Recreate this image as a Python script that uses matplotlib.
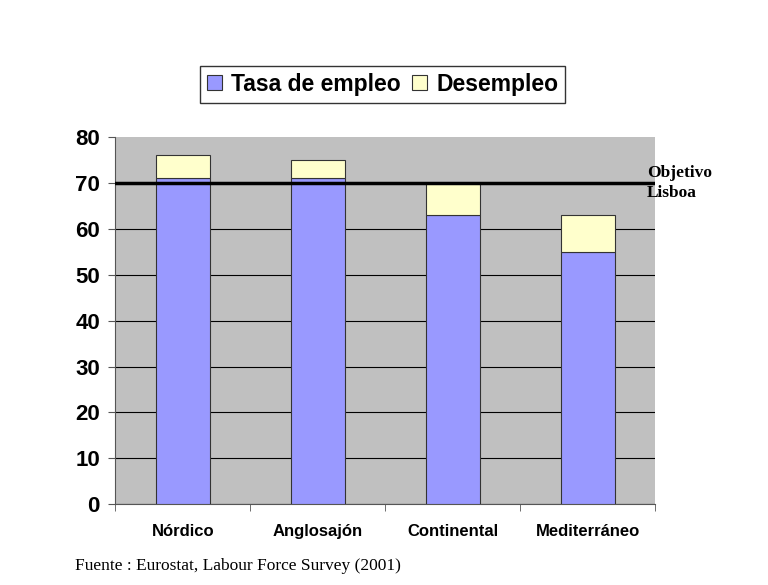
import matplotlib
matplotlib.use("Agg")
import matplotlib.pyplot as plt
import numpy as np

# data
regions = ["Nórdico", "Anglosajón", "Continental", "Mediterráneo"]
empleo = [71, 71, 63, 55]
desempleo = [5, 4, 7, 8]
objetivo_lisboa = 70
y_ticks = [0, 10, 20, 30, 40, 50, 60, 70, 80]

fig = plt.figure(figsize=(7.68, 5.85), dpi=100)
ax = fig.add_axes([0.150, 0.138, 0.703, 0.628])
ax.set_facecolor("#C0C0C0")

x = np.arange(len(regions))
ax.bar(x, empleo, width=0.4, color="#9999FF", edgecolor="#333333",
       linewidth=0.8, label="Tasa de empleo", zorder=3)
ax.bar(x, desempleo, width=0.4, bottom=empleo, color="#FFFFCC",
       edgecolor="#333333", linewidth=0.8, label="Desempleo", zorder=3)

ax.axhline(objetivo_lisboa, color="black", linewidth=2.5, zorder=4)
ax.text(len(regions) - 0.5 - 0.06, objetivo_lisboa, "Objetivo\nLisboa",
        family="Liberation Serif", fontweight="bold", fontsize=12.5,
        va="center", ha="left", linespacing=1.3, zorder=5)

ax.set_xlim(-0.5, len(regions) - 0.5)
ax.set_ylim(0, 80)
ax.set_yticks(y_ticks)
ax.yaxis.grid(True, color="black", linewidth=0.8, zorder=1)
ax.get_ygridlines()[-1].set_visible(False)
ax.set_axisbelow(True)

ax.set_xticks(x)
ax.set_xticklabels(regions, family="Liberation Sans", fontweight="bold", fontsize=12)
ax.set_xticks(np.arange(len(regions) + 1) - 0.5, minor=True)
ax.tick_params(axis="x", which="major", length=0, pad=14)
ax.tick_params(axis="x", which="minor", length=5, color="#555555")
ax.tick_params(axis="y", length=5, color="#555555", pad=6)
for lab in ax.get_yticklabels():
    lab.set_family("Liberation Sans")
    lab.set_fontweight("bold")
    lab.set_fontsize(16)

for side in ["top", "right"]:
    ax.spines[side].set_visible(False)
for side in ["left", "bottom"]:
    ax.spines[side].set_color("#555555")

leg = fig.legend(loc="center", bbox_to_anchor=(0.498, 0.856), ncol=2,
                 prop={"family": "Liberation Sans", "weight": "bold", "size": 16.5},
                 frameon=True, fancybox=False, edgecolor="black",
                 handlelength=0.65, handleheight=0.65, handletextpad=0.4,
                 columnspacing=0.5, borderpad=0.3)
leg.get_frame().set_linewidth(1.0)

fig.text(0.098, 0.032, "Fuente : Eurostat, Labour Force Survey (2001)",
         family="Liberation Serif", fontsize=12.5, ha="left", va="center")

fig.savefig("out.png", dpi=100)
